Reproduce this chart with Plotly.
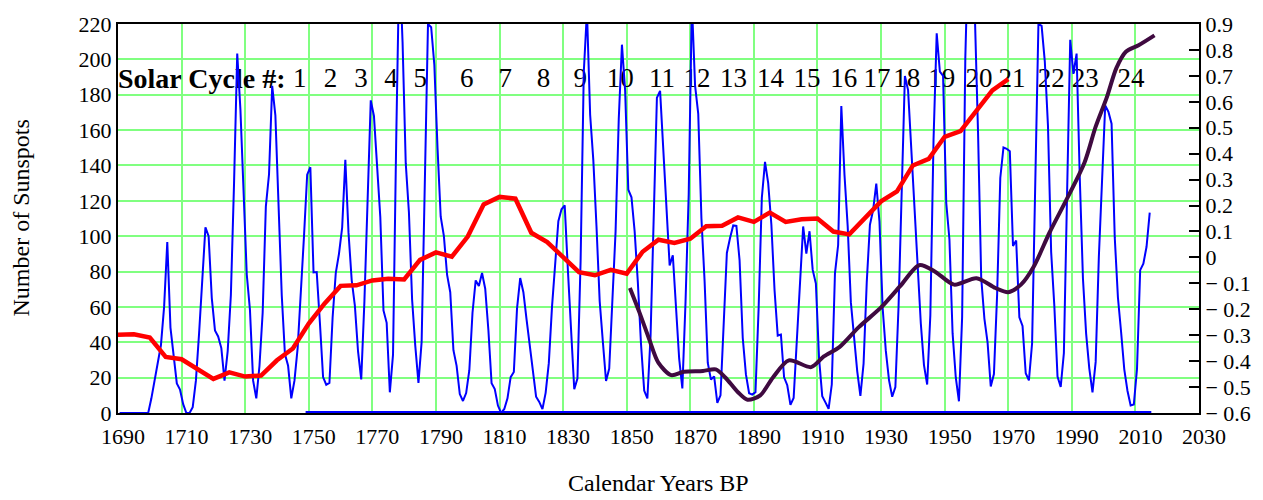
import plotly.graph_objects as go

# ---------------- data ----------------
# Yearly mean sunspot number (plotted at mid-year), 1690-2014
sunspot_years = list(range(1690, 2015))
sunspot_values = [
    0, 0, 0, 0, 0, 0, 0, 0, 0, 0,  # 1690-1699
    8.3, 18.3, 26.7, 38.3, 60.0, 96.7, 48.3, 33.3, 16.7, 13.3,  # 1700
    5.0, 0.0, 0.0, 3.3, 18.3, 45.0, 78.3, 105.0, 100.0, 65.0,  # 1710
    46.7, 43.3, 36.7, 18.3, 35.0, 66.7, 130.0, 203.3, 171.7, 121.7,  # 1720
    78.3, 58.3, 18.3, 8.3, 26.7, 56.7, 116.7, 135.0, 185.0, 168.3,  # 1730
    121.7, 66.7, 33.3, 26.7, 8.3, 18.3, 36.7, 66.7, 100.0, 134.8,  # 1740
    139.0, 79.5, 79.7, 51.2, 20.3, 16.0, 17.0, 54.0, 79.3, 90.0,  # 1750
    104.8, 143.2, 102.0, 75.2, 60.7, 34.8, 19.0, 63.0, 116.3, 176.8,  # 1760
    168.0, 136.0, 110.8, 58.0, 51.0, 11.7, 33.0, 154.2, 257.3, 209.8,  # 1770
    141.3, 113.5, 64.2, 38.0, 17.0, 40.2, 138.2, 220.0, 218.2, 196.8,  # 1780
    149.8, 111.0, 100.0, 78.2, 68.3, 35.5, 26.7, 10.7, 6.8, 11.3,  # 1790
    24.2, 56.7, 75.0, 71.8, 79.2, 70.3, 46.8, 16.8, 13.5, 4.2,  # 1800
    0.0, 2.3, 8.3, 20.3, 23.2, 59.0, 76.3, 68.3, 52.9, 38.5,  # 1810
    24.2, 9.2, 6.3, 2.2, 11.4, 28.2, 59.9, 83.0, 108.5, 115.2,  # 1820
    117.4, 80.8, 44.3, 13.4, 19.5, 85.8, 192.7, 227.3, 168.7, 143.0,  # 1830
    105.5, 63.3, 40.3, 18.1, 25.1, 65.8, 102.7, 166.3, 208.3, 182.5,  # 1840
    126.3, 122.0, 102.7, 74.1, 39.0, 12.7, 8.2, 43.4, 104.4, 178.3,  # 1850
    182.2, 146.6, 112.1, 83.5, 89.2, 57.8, 30.7, 13.9, 62.8, 123.6,  # 1860
    232.0, 185.3, 169.2, 110.1, 74.5, 28.3, 18.9, 20.7, 5.7, 10.0,  # 1870
    53.7, 90.5, 99.0, 106.1, 105.8, 86.3, 42.4, 21.8, 11.2, 10.4,  # 1880
    11.8, 59.5, 121.7, 142.0, 130.0, 106.6, 69.4, 43.8, 44.4, 20.2,  # 1890
    15.7, 4.6, 8.5, 40.8, 70.1, 105.5, 90.1, 102.8, 80.9, 73.2,  # 1900
    30.9, 9.5, 6.0, 2.4, 16.1, 79.0, 95.0, 173.6, 134.6, 105.7,  # 1910
    62.7, 43.5, 23.7, 9.7, 27.9, 74.0, 106.5, 114.7, 129.7, 108.2,  # 1920
    59.4, 35.1, 18.6, 9.2, 14.6, 60.2, 132.8, 190.6, 182.6, 148.0,  # 1930
    113.0, 79.2, 50.8, 27.1, 16.1, 55.3, 154.3, 214.7, 193.0, 190.7,  # 1940
    118.9, 98.3, 45.0, 20.1, 6.6, 54.2, 200.7, 269.3, 261.7, 225.1,  # 1950
    159.0, 76.4, 53.4, 39.9, 15.0, 22.0, 66.8, 132.9, 150.2, 149.4,  # 1960
    148.0, 94.4, 97.6, 54.1, 49.2, 22.5, 18.4, 39.3, 131.0, 220.1,  # 1970
    218.9, 198.9, 162.4, 91.0, 60.5, 20.6, 14.8, 33.9, 123.0, 211.1,  # 1980
    191.8, 203.3, 133.0, 76.1, 44.9, 25.1, 11.6, 28.9, 88.3, 136.3,  # 1990
    173.9, 170.4, 163.6, 99.3, 65.3, 45.8, 24.7, 12.6, 4.2, 4.8,  # 2000
    24.9, 80.8, 84.5, 94.0, 113.3,  # 2010-2014
]

# Zero baseline series (blue) drawn along the bottom
baseline_years = [1749, 2015]
baseline_values = [0, 0]

# Smoothed sunspot curve (red), 5-year steps, left axis
red_years = list(range(1690, 1975, 5))
red_values = [
    44.3, 44.5, 42.7, 31.7, 30.4, 25.0, 19.3, 23.0, 20.6, 21.2,
    29.8, 36.5, 50.6, 62.0, 71.9, 72.2, 75.0, 75.9, 75.5, 86.6,
    90.8, 88.4, 99.8, 117.9, 122.2, 121.2, 101.9, 96.7, 87.9, 79.6,
    77.9, 81.0, 78.8, 91.2, 98.0, 96.2, 98.6, 105.6, 105.9, 110.6,
    108.1, 113.3, 108.1, 109.6, 110.0, 102.6, 101.0, 110.6, 119.7, 125.3,
    140.0, 143.7, 156.2, 159.4, 171.4, 182.4, 188.8,
]

# Temperature anomaly curve (dark purple), right axis
temp_years = [1851, 1854, 1857, 1860, 1864, 1868, 1874, 1878, 1881, 1885,
              1888, 1892, 1896, 1901, 1908, 1912, 1917, 1923, 1930, 1936,
              1942, 1947, 1953, 1960, 1966, 1970, 1974, 1978, 1983, 1988,
              1994, 1997.5, 2001, 2004, 2007, 2011, 2016]
temp_values = [-0.118, -0.212, -0.313, -0.407, -0.454, -0.441, -0.438, -0.432, -0.463, -0.520,
               -0.549, -0.532, -0.463, -0.397, -0.423, -0.382, -0.345, -0.269, -0.193, -0.111,
               -0.030, -0.055, -0.105, -0.080, -0.118, -0.134, -0.105, -0.036, 0.096, 0.215,
               0.366, 0.504, 0.617, 0.730, 0.793, 0.818, 0.856]

# Solar cycle labels
cycle_numbers = [str(n) for n in range(1, 25)]
cycle_label_years = [1747.2, 1756.8, 1766.4, 1775.9, 1785.1, 1799.7, 1811.8, 1823.8,
                     1835.4, 1848.0, 1861.1, 1872.1, 1883.6, 1895.2, 1906.7, 1918.3,
                     1928.7, 1938.1, 1949.1, 1960.8, 1971.2, 1983.5, 1994.2, 2008.6]
cycle_label_level = 188

# Axis ticks
x_ticks = list(range(1690, 2031, 20))
y_ticks = list(range(0, 221, 20))
y2_tickvals = [0.9, 0.8, 0.7, 0.6, 0.5, 0.4, 0.3, 0.2, 0.1, 0.0,
               -0.1, -0.2, -0.3, -0.4, -0.5, -0.6]
y2_ticktext = ["0.9", "0.8", "0.7", "0.6", "0.5", "0.4", "0.3", "0.2", "0.1", "0",
               "\u2212 0.1", "\u2212 0.2", "\u2212 0.3", "\u2212 0.4", "\u2212 0.5", "\u2212 0.6"]

# ---------------- figure ----------------
FONT = "Liberation Serif, Times New Roman, serif"
GRID = "#80ff80"
TICK_SIZE = 22

fig = go.Figure()

# cycle text first so that the curves are drawn over it
fig.add_trace(go.Scatter(
    x=[1690], y=[cycle_label_level], mode="text",
    text=["<b>Solar Cycle #:</b>"], textposition="middle right",
    textfont=dict(family=FONT, size=28, color="black"),
    cliponaxis=False, hoverinfo="skip", showlegend=False))
fig.add_trace(go.Scatter(
    x=cycle_label_years, y=[cycle_label_level] * len(cycle_label_years), mode="text",
    text=cycle_numbers, textposition="middle center",
    textfont=dict(family=FONT, size=27, color="black"),
    cliponaxis=False, hoverinfo="skip", showlegend=False))

fig.add_trace(go.Scatter(
    x=[y + 0.5 for y in sunspot_years], y=sunspot_values, mode="lines",
    line=dict(color="#0000ff", width=2), showlegend=False))
fig.add_trace(go.Scatter(
    x=baseline_years, y=baseline_values, mode="lines",
    line=dict(color="#0000ff", width=4), showlegend=False))
fig.add_trace(go.Scatter(
    x=red_years, y=red_values, mode="lines",
    line=dict(color="#ff0000", width=4.5), showlegend=False))
fig.add_trace(go.Scatter(
    x=temp_years, y=temp_values, mode="lines", yaxis="y2",
    line=dict(color="#3f0a40", width=4, shape="spline", smoothing=0.8), showlegend=False))

fig.update_layout(
    width=1263, height=500,
    margin=dict(l=118, r=64, t=15, b=87),
    paper_bgcolor="white", plot_bgcolor="white",
    font=dict(family=FONT, size=TICK_SIZE, color="black"),
    xaxis=dict(range=[1690, 2030], tickvals=x_ticks, ticks="",
               showgrid=True, gridcolor=GRID, gridwidth=2, zeroline=False,
               showline=True, linecolor="black", linewidth=2, mirror=True,
               tickfont=dict(size=TICK_SIZE), ticklabelshift=5, ticklabelstandoff=3),
    yaxis=dict(range=[0, 220], tickvals=y_ticks, ticks="",
               showgrid=True, gridcolor=GRID, gridwidth=2, zeroline=False,
               showline=True, linecolor="black", linewidth=2, mirror=True,
               tickfont=dict(size=TICK_SIZE)),
    yaxis2=dict(range=[-0.6, 0.9], overlaying="y", side="right",
                tickvals=y2_tickvals, ticktext=y2_ticktext,
                ticks="inside", ticklen=10, tickwidth=2, tickcolor="black",
                showgrid=False, zeroline=False,
                showline=True, linecolor="black", linewidth=2,
                tickfont=dict(size=TICK_SIZE)),
    annotations=[
        dict(text="Number of Sunspots", xref="paper", yref="paper",
             x=(20 - 118) / 1081, y=0.5, xanchor="center", yanchor="middle",
             textangle=-90, showarrow=False,
             font=dict(family=FONT, size=24)),
        dict(text="Calendar Years BP", xref="paper", yref="paper",
             x=0.5, y=(413 - 485) / 398, xanchor="center", yanchor="middle",
             showarrow=False, font=dict(family=FONT, size=24)),
    ],
)

fig.write_html("out.html", config={"displayModeBar": False},
               post_script="document.body.style.margin='0';")
